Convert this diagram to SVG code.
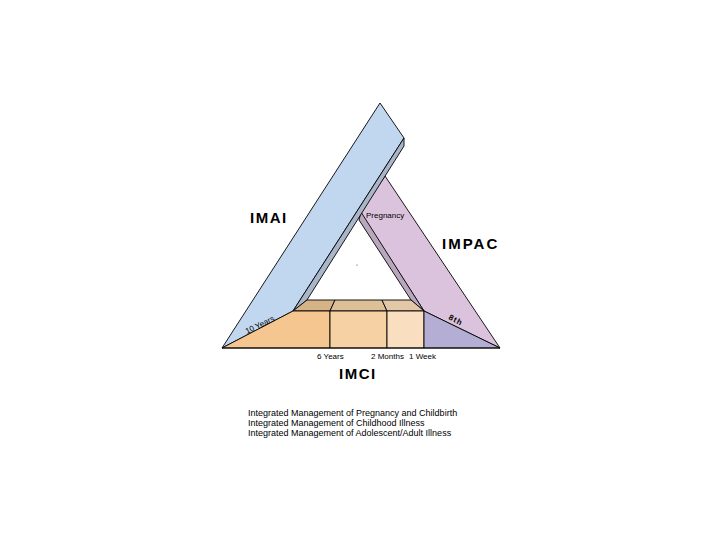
<svg xmlns="http://www.w3.org/2000/svg" width="720" height="540" viewBox="0 0 720 540">
<defs>
<style>
.o{stroke:#000;stroke-width:0.9;stroke-linejoin:round}
.big{font-family:"Liberation Sans",Arial,sans-serif;font-weight:bold;font-size:15px;letter-spacing:1.5px;fill:#000}
.sm{font-family:"Liberation Sans",Arial,sans-serif;font-size:8px;fill:#000}
.leg{font-family:"Liberation Sans",Arial,sans-serif;font-size:9px;fill:#000}
</style>
</defs>
<rect width="720" height="540" fill="#fff"/>
<g id="impac">
<polygon class="o" points="385,176 500,348 424,311 360,212" fill="#DCC3DD"/>
<polygon class="o" points="361,212 424,311 411,300 359,220" fill="#B9A8BD"/>
</g>
<g id="imai">
<polygon class="o" points="380,103 404,138 293,311 222,348" fill="#C1D7EF"/>
<polygon class="o" points="404,138 404,146 307,300 293,311" fill="#A9B5C9"/>
</g>
<g id="imci">
<polygon class="o" points="307,300 335,300 330,311 293,311" fill="#D6B287"/>
<polygon class="o" points="335,300 382,300 387,311 330,311" fill="#DDBF98"/>
<polygon class="o" points="382,300 411,300 424,311 387,311" fill="#E2C8A6"/>
<polygon class="o" points="222,348 293,311 330,311 330,348" fill="#F5C68F"/>
<polygon class="o" points="330,311 387,311 387,348 330,348" fill="#F6D1A4"/>
<polygon class="o" points="387,311 424,311 424,348 387,348" fill="#F9DFBF"/>
<polygon class="o" points="424,311 500,348 424,348" fill="#B4AED4"/>
<line class="o" x1="222" y1="348" x2="500" y2="348"/>
</g>
<g id="labels">
<circle cx="357" cy="265" r="0.6" fill="#333"/>
<text class="big" x="250" y="223">IMAI</text>
<text class="big" x="442" y="249" style="letter-spacing:2px">IMPAC</text>
<text class="big" x="339" y="379">IMCI</text>
<text class="sm" x="366" y="218">Pregnancy</text>
<text class="sm" x="317" y="359">6 Years</text>
<text class="sm" x="371" y="359">2 Months</text>
<text class="sm" x="409" y="359">1 Week</text>
<text class="sm" transform="translate(247,334) rotate(-26)">10 Years</text>
<text class="sm" transform="translate(448,319) rotate(27)" style="font-weight:bold;letter-spacing:1px">8th</text>
</g>
<g id="legend">
<text class="leg" x="248" y="416">Integrated Management of Pregnancy and Childbirth</text>
<text class="leg" x="248" y="426">Integrated Management of Childhood Illness</text>
<text class="leg" x="248" y="436">Integrated Management of Adolescent/Adult Illness</text>
</g>
</svg>
